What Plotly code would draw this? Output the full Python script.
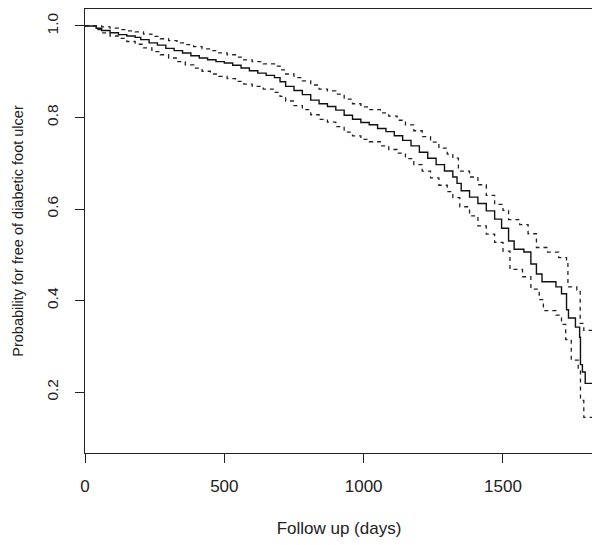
import plotly.graph_objects as go

# Kaplan-Meier estimate (days, survival probability)
km_days = [0, 40, 60, 90, 120, 150, 180, 200, 230, 260, 290, 320, 350, 380, 410, 440, 470, 500,
           530, 560, 590, 620, 650, 680, 700, 720, 750, 780, 810, 840, 870, 900, 930, 960, 990,
           1020, 1050, 1080, 1110, 1140, 1170, 1200, 1230, 1260, 1290, 1320, 1335, 1350, 1380,
           1410, 1440, 1470, 1495, 1520, 1540, 1575, 1600, 1620, 1640, 1690, 1710, 1728, 1735,
           1760, 1775, 1778, 1785, 1795, 1823]
km_surv = [1.0, 0.995, 0.99, 0.985, 0.981, 0.978, 0.975, 0.970, 0.963, 0.958, 0.951, 0.946, 0.941,
           0.935, 0.930, 0.926, 0.922, 0.919, 0.914, 0.908, 0.902, 0.897, 0.892, 0.887, 0.878,
           0.868, 0.859, 0.850, 0.838, 0.830, 0.824, 0.816, 0.805, 0.796, 0.789, 0.784, 0.776,
           0.769, 0.760, 0.750, 0.738, 0.724, 0.711, 0.697, 0.683, 0.670, 0.656, 0.640, 0.626,
           0.612, 0.596, 0.578, 0.558, 0.530, 0.512, 0.506, 0.480, 0.458, 0.441, 0.430, 0.415,
           0.380, 0.362, 0.342, 0.320, 0.260, 0.244, 0.219, 0.219]

# Upper 95% confidence limit
up_days = [0, 40, 60, 90, 120, 150, 180, 210, 240, 270, 300, 330, 360, 390, 420, 450, 480, 510,
           540, 570, 600, 640, 680, 700, 720, 750, 780, 810, 840, 870, 900, 930, 960, 990, 1020,
           1060, 1090, 1120, 1150, 1180, 1210, 1240, 1270, 1300, 1320, 1340, 1380, 1410, 1440,
           1470, 1500, 1520, 1560, 1590, 1620, 1660, 1700, 1728, 1733, 1765, 1777, 1790, 1823]
up_surv = [1.0, 1.0, 0.998, 0.995, 0.992, 0.989, 0.987, 0.982, 0.977, 0.972, 0.968, 0.963, 0.959,
           0.955, 0.950, 0.946, 0.941, 0.937, 0.932, 0.926, 0.922, 0.917, 0.912, 0.904, 0.895,
           0.887, 0.880, 0.871, 0.862, 0.858, 0.851, 0.840, 0.830, 0.823, 0.817, 0.810, 0.803,
           0.794, 0.784, 0.771, 0.758, 0.746, 0.733, 0.720, 0.711, 0.683, 0.670, 0.653, 0.630,
           0.610, 0.597, 0.577, 0.566, 0.546, 0.516, 0.506, 0.494, 0.483, 0.430, 0.423, 0.350,
           0.335, 0.335]

# Lower 95% confidence limit
lo_days = [0, 40, 60, 90, 120, 150, 180, 210, 240, 270, 300, 330, 360, 390, 420, 450, 480, 510,
           540, 570, 600, 640, 680, 700, 720, 750, 780, 810, 840, 870, 900, 930, 960, 990, 1020,
           1060, 1090, 1120, 1150, 1180, 1210, 1240, 1270, 1300, 1320, 1345, 1380, 1410, 1440,
           1470, 1500, 1525, 1570, 1600, 1630, 1645, 1690, 1710, 1725, 1745, 1770, 1778, 1790, 1823]
lo_surv = [1.0, 0.992, 0.985, 0.978, 0.973, 0.966, 0.960, 0.952, 0.944, 0.937, 0.930, 0.922, 0.915,
           0.908, 0.901, 0.895, 0.890, 0.885, 0.879, 0.873, 0.868, 0.862, 0.855, 0.846, 0.836,
           0.826, 0.817, 0.806, 0.796, 0.790, 0.780, 0.768, 0.760, 0.752, 0.747, 0.738, 0.730,
           0.722, 0.710, 0.697, 0.683, 0.668, 0.652, 0.638, 0.625, 0.605, 0.585, 0.563, 0.545,
           0.527, 0.508, 0.468, 0.452, 0.425, 0.402, 0.378, 0.368, 0.348, 0.315, 0.270, 0.250,
           0.182, 0.145, 0.145]

x_ticks = [0, 500, 1000, 1500]
y_ticks = [0.2, 0.4, 0.6, 0.8, 1.0]
y_tick_text = ["0.2", "0.4", "0.6", "0.8", "1.0"]

FONT = "Liberation Sans, Arial, Helvetica, sans-serif"

fig = go.Figure()
fig.add_trace(go.Scatter(x=km_days, y=km_surv, mode="lines", line=dict(shape="hv", color="#111", width=1.4),
                         showlegend=False, hoverinfo="skip"))
fig.add_trace(go.Scatter(x=up_days, y=up_surv, mode="lines",
                         line=dict(shape="hv", color="#222", width=1.3, dash="4px,4px"),
                         showlegend=False, hoverinfo="skip"))
fig.add_trace(go.Scatter(x=lo_days, y=lo_surv, mode="lines",
                         line=dict(shape="hv", color="#222", width=1.3, dash="4px,4px"),
                         showlegend=False, hoverinfo="skip"))

axis_common = dict(showgrid=False, zeroline=False, showline=True, linecolor="#222", linewidth=1,
                   mirror=True, ticks="outside", ticklen=9, tickcolor="#222", tickwidth=1,
                   automargin=False)

fig.update_xaxes(range=[0, 1823], tickvals=x_ticks, ticklabelstandoff=9,
                 tickfont=dict(family=FONT, size=17, color="#222"),
                 title=dict(text="Follow up (days)", font=dict(family=FONT, size=17, color="#222"), standoff=26),
                 **axis_common)
fig.update_yaxes(range=[0.067, 1.037], tickvals=y_ticks, ticktext=y_tick_text, tickangle=-90,
                 ticklabelstandoff=11,
                 tickfont=dict(family=FONT, size=15.5, color="#222"),
                 title=dict(text="Probability for free of diabetic foot ulcer",
                            font=dict(family=FONT, size=14.5, color="#222"), standoff=16),
                 **axis_common)

# page body has an 8px default margin, so the figure is sized to fill the rest of the window
fig.update_layout(width=592, height=537, margin=dict(l=77, r=7, t=1, b=92),
                  plot_bgcolor="white", paper_bgcolor="white")

fig.write_html("out.html")
